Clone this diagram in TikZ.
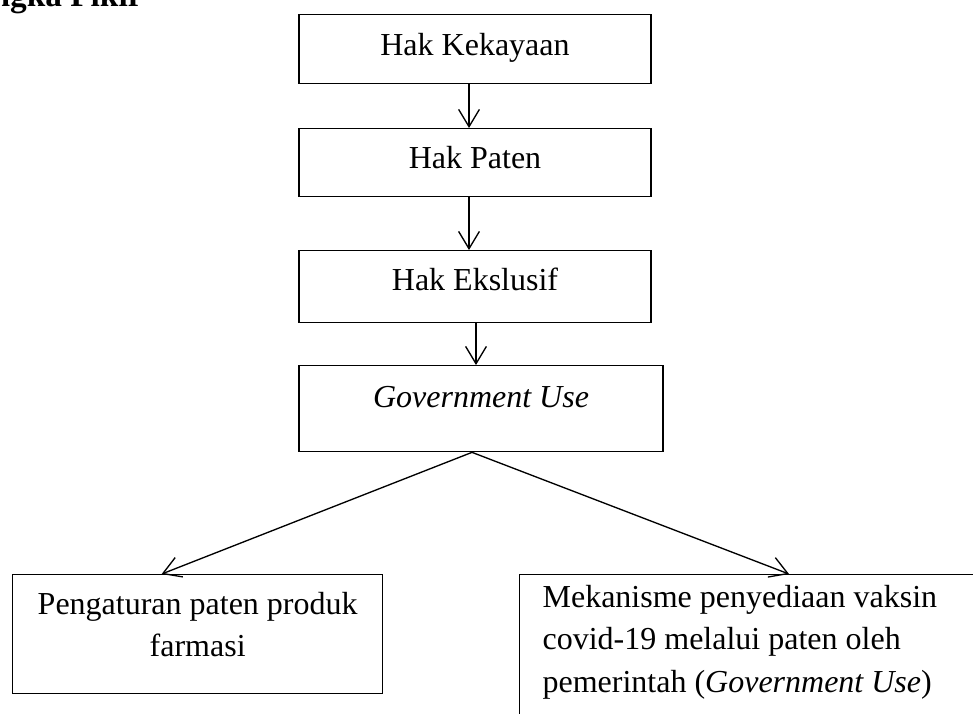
\documentclass[tikz,border=0pt]{standalone}
\usepackage{fontspec}
\setmainfont{Liberation Serif}
\usetikzlibrary{arrows.meta}
\usetikzlibrary{calc,positioning}

\begin{document}
\begin{tikzpicture}[x=0.375pt,y=-0.375pt,>={Straight Barb[length=6.5pt,width=7.8pt]},
    every node/.style={font=\fontsize{12}{15.8}\selectfont},
    kotak/.style={draw, line width=0.5pt, inner sep=0pt, text height=15pt, minimum width=132pt},
    panah/.style={->, line width=0.5pt}]

    \useasboundingbox (0,0) rectangle (973,713);
    \clip (0,0) rectangle (973,713);

    \node[anchor=base east, font=\fontsize{12.5}{15.8}\selectfont\bfseries] (judul) at (152,6) {Kerangka Pikir};

    \node[kotak, anchor=north, text height=15.4pt, text depth=10.5pt] (kekayaan) at (475,14) {Hak Kekayaan};
    \node[kotak, anchor=north, text depth=10.5pt] (paten) at (475,128) {Hak Paten};
    \node[kotak, anchor=north, text depth=12pt] (ekslusif) at (475,250) {Hak Ekslusif};
    \node[kotak, anchor=north, minimum width=136.5pt, text height=15.75pt, text depth=16.5pt] (gov) at (481,365) {\itshape Government Use};

    \node[kotak, anchor=north west, minimum width=138.75pt, text depth=29.6pt] (farmasi) at (12,574)
        {\parbox[t]{138.75pt}{\centering Pengaturan paten produk\\farmasi}};
    \node[kotak, anchor=north west, inner xsep=8.6pt, text height=12.4pt, text depth=70pt] (vaksin) at (519,574)
        {\parbox[t]{180pt}{\raggedright Mekanisme penyediaan vaksin\\covid-19 melalui paten oleh\\pemerintah (\textit{Government Use})}};

    \draw[panah] ($(kekayaan.south)+(-6,0)$) -- ($(paten.north)+(-6,0)$);
    \draw[panah] ($(paten.south)+(-6,0)$) -- ($(ekslusif.north)+(-6,0)$);
    \draw[panah] ($(ekslusif.south)+(1,0)$) -- ($(gov.north)+(-5,0)$);
    \draw[panah] ($(gov.south)+(-9,0)$) -- ($(farmasi.north)+(-36,0)$);
    \draw[panah] ($(gov.south)+(-9,0)$) -- ($(vaksin.north west)+(270,0)$);

\end{tikzpicture}
\end{document}
